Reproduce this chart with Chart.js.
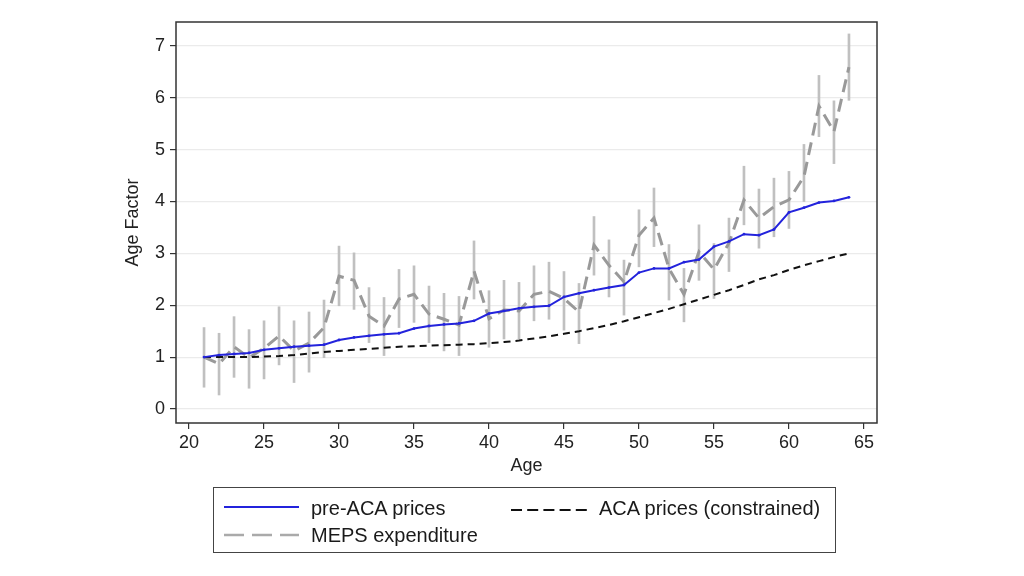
<!DOCTYPE html>
<html>
<head>
<meta charset="utf-8">
<script src="https://cdn.jsdelivr.net/npm/chart.js@4.4.1/dist/chart.umd.min.js"></script>
<style>
  html, body { margin: 0; padding: 0; background: #fff; }
  #wrap { position: relative; width: 1024px; height: 576px; font-family: "Liberation Sans", Arial, sans-serif; }
  #c { position: absolute; left: 0; top: 0; }
  #legend { position: absolute; left: 213px; top: 487px; width: 623px; height: 66px; border: 1.5px solid #444; box-sizing: border-box; }
  .item { position: absolute; font-size: 20px; color: #1a1a1a; line-height: 22px; white-space: nowrap; }
  .sw { position: absolute; }
</style>
</head>
<body>
<div id="wrap">
  <canvas id="c" width="1024" height="576"></canvas>
  <div id="legend"></div>
</div>
<script>
const ages = [21,22,23,24,25,26,27,28,29,30,31,32,33,34,35,36,37,38,39,40,41,42,43,44,45,46,47,48,49,50,51,52,53,54,55,56,57,58,59,60,61,62,63,64];
const preACA = [1.00,1.04,1.06,1.08,1.14,1.17,1.20,1.22,1.24,1.33,
                1.38,1.41,1.44,1.46,1.55,1.60,1.63,1.65,1.70,1.84,
                1.89,1.94,1.97,1.99,2.16,2.23,2.29,2.34,2.39,2.63,
                2.71,2.71,2.83,2.88,3.13,3.23,3.37,3.35,3.46,3.79,
                3.88,3.98,4.01,4.08];
const acaConstrained = [1.00,1.00,1.00,1.00,1.01,1.02,1.04,1.07,1.10,1.12,
                        1.14,1.16,1.18,1.20,1.21,1.22,1.23,1.24,1.25,1.27,
                        1.29,1.32,1.36,1.40,1.45,1.50,1.56,1.62,1.69,1.77,
                        1.85,1.93,2.02,2.11,2.20,2.29,2.39,2.50,2.58,2.68,
                        2.77,2.85,2.93,3.00];
const meps = [1.00,0.87,1.20,0.99,1.17,1.41,1.12,1.27,1.57,2.56,
              2.48,1.79,1.60,2.12,2.21,1.83,1.73,1.62,2.66,1.74,
              1.91,1.89,2.21,2.27,2.13,1.87,3.16,2.77,2.45,3.35,
              3.68,2.71,2.21,3.03,2.69,3.20,4.03,3.68,3.90,4.03,
              4.48,5.84,5.35,6.59];
const mepsLow = [0.42,0.27,0.61,0.40,0.58,0.85,0.51,0.71,0.99,1.99,
                 1.92,1.28,1.03,1.57,1.67,1.28,1.12,1.03,2.12,1.19,
                 1.35,1.35,1.70,1.73,1.52,1.26,2.58,2.16,1.81,2.74,
                 3.13,2.10,1.68,2.48,2.13,2.65,3.55,3.10,3.32,3.48,
                 4.00,5.25,4.73,5.95];
const mepsHigh = [1.57,1.46,1.78,1.53,1.70,1.97,1.70,1.87,2.10,3.14,
                  3.01,2.34,2.15,2.69,2.76,2.37,2.23,2.17,3.24,2.28,
                  2.48,2.44,2.76,2.83,2.65,2.42,3.71,3.26,2.87,3.84,
                  4.26,3.17,2.71,3.55,3.19,3.68,4.68,4.24,4.45,4.58,
                  5.10,6.43,5.94,7.23];
const xTicks = [20,25,30,35,40,45,50,55,60,65];
const yTicks = [0,1,2,3,4,5,6,7];
const seriesNames = ["pre-ACA prices", "ACA prices (constrained)", "MEPS expenditure"];

const BLUE = "#2323dc", GRAY = "#999999", ERR = "#c0c0c0", BLACK = "#111111";
const FONT = "'Liberation Sans', Arial, sans-serif";

const frame = {
  id: 'frame',
  afterDraw(chart) {
    const {ctx, chartArea: a} = chart;
    ctx.save();
    ctx.strokeStyle = '#333';
    ctx.lineWidth = 1.5;
    ctx.strokeRect(a.left, a.top, a.right - a.left, a.bottom - a.top);
    ctx.restore();
  }
};

new Chart(document.getElementById('c'), {
  type: 'line',
  data: {
    datasets: [
      { type: 'line', label: seriesNames[0], data: ages.map((a,i)=>({x:a,y:preACA[i]})),
        borderColor: BLUE, backgroundColor: BLUE, borderWidth: 2, pointRadius: 1.4, pointBorderWidth: 0,
        tension: 0, order: 1 },
      { type: 'line', label: seriesNames[1], data: ages.map((a,i)=>({x:a,y:acaConstrained[i]})),
        borderColor: BLACK, borderWidth: 2, borderDash: [7,5], pointRadius: 0, tension: 0, order: 2 },
      { type: 'line', label: seriesNames[2], data: ages.map((a,i)=>({x:a,y:meps[i]})),
        borderColor: GRAY, borderWidth: 3, borderDash: [13,7], pointRadius: 0, tension: 0, order: 3 },
      { type: 'bar', label: 'CI', data: ages.map((a,i)=>({x:a,y:[mepsLow[i], mepsHigh[i]]})),
        backgroundColor: ERR, borderWidth: 0, barThickness: 2, order: 4 }
    ]
  },
  options: {
    responsive: false,
    animation: false,
    devicePixelRatio: 1,
    layout: { padding: { left: 122, right: 147, top: 22, bottom: 97 } },
    plugins: { legend: { display: false }, tooltip: { enabled: false } },
    scales: {
      x: {
        type: 'linear', min: 19.13, max: 65.87, offset: false,
        afterBuildTicks: s => { s.ticks = xTicks.map(v => ({value: v})); },
        afterFit: s => { s.height = 56; },
        border: { display: false },
        grid: { offset: false, drawOnChartArea: false, drawTicks: true, tickLength: 6, tickColor: '#333', lineWidth: 1.2 },
        ticks: { color: '#222', font: { family: FONT, size: 18 }, padding: 3, maxRotation: 0 },
        title: { display: true, text: 'Age', color: '#222', font: { family: FONT, size: 18 }, padding: { top: 0, bottom: 2 } }
      },
      y: {
        type: 'linear', min: -0.27, max: 7.46,
        afterBuildTicks: s => { s.ticks = yTicks.map(v => ({value: v})); },
        afterFit: s => { s.width = 54; },
        border: { display: false },
        grid: { color: '#ebebeb', lineWidth: 1.2, drawTicks: true, tickLength: 6, tickColor: '#333' },
        ticks: { color: '#222', font: { family: FONT, size: 18 }, padding: 5 },
        title: { display: true, text: 'Age Factor', color: '#222', font: { family: FONT, size: 18 }, padding: 0 }
      }
    }
  },
  plugins: [frame]
});

// legend (HTML, real text)
const lg = document.getElementById('legend');
function sample(x, y, len, color, width, dash) {
  const svg = document.createElementNS('http://www.w3.org/2000/svg', 'svg');
  svg.setAttribute('class', 'sw');
  svg.setAttribute('width', len + 2); svg.setAttribute('height', 10);
  svg.style.left = x + 'px'; svg.style.top = (y - 5) + 'px';
  const l = document.createElementNS('http://www.w3.org/2000/svg', 'line');
  l.setAttribute('x1', 0); l.setAttribute('x2', len); l.setAttribute('y1', 5); l.setAttribute('y2', 5);
  l.setAttribute('stroke', color); l.setAttribute('stroke-width', width);
  if (dash) l.setAttribute('stroke-dasharray', dash);
  svg.appendChild(l);
  lg.appendChild(svg);
}
function label(x, y, text) {
  const d = document.createElement('div');
  d.className = 'item'; d.textContent = text;
  d.style.left = x + 'px'; d.style.top = (y - 11) + 'px';
  lg.appendChild(d);
}
// coordinates relative to legend box (left 213, top 487)
sample(10, 19, 75, BLUE, 2, null);             label(97, 20, seriesNames[0]);
sample(297, 22, 76, BLACK, 2, '11 5.2');        label(385, 20, seriesNames[1]);
sample(10, 47, 75, "#aaaaaa", 2.5, '20 8');     label(97, 47, seriesNames[2]);
</script>
</body>
</html>
